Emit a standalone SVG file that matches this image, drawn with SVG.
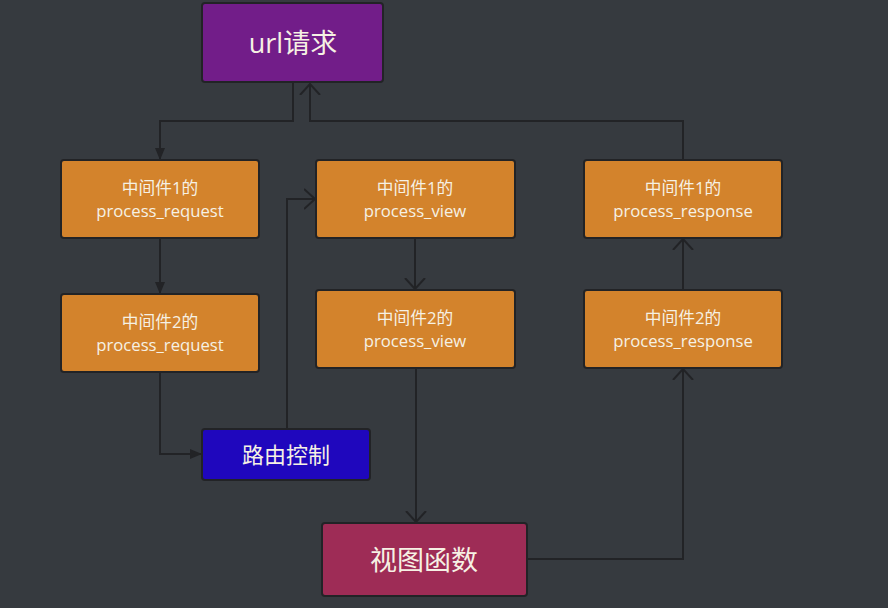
<svg xmlns="http://www.w3.org/2000/svg" width="888" height="608" viewBox="0 0 888 608">
<defs>
<style>
.bg{fill:#363a3f}
.box{stroke:#222326;stroke-width:2}
.mw{fill:#d3832c}
.t{fill:#f6f1e4;font-family:"Open Sans","Noto Sans CJK SC",sans-serif;text-anchor:middle}
.s{font-size:16.7px}
.c{fill:none;stroke:#222326;stroke-width:2}
</style>
<marker id="fa" viewBox="0 0 12 12" refX="11" refY="6" markerWidth="12" markerHeight="12" markerUnits="userSpaceOnUse" orient="auto">
<path d="M0,1 L12,6 L0,11 Z" fill="#222326"/>
</marker>
<marker id="oa" viewBox="0 0 12 22" refX="11" refY="11" markerWidth="12" markerHeight="22" markerUnits="userSpaceOnUse" orient="auto">
<path d="M0,1 L11,11 L0,21" fill="none" stroke="#222326" stroke-width="2"/>
</marker>
</defs>
<rect class="bg" x="0" y="0" width="888" height="608"/>
<g id="connectors">
<path class="c" d="M293,83 V121 H160 V159" marker-end="url(#fa)"/>
<path class="c" d="M683,159 V121 H310 V84" marker-end="url(#oa)"/>
<path class="c" d="M160,239 V293" marker-end="url(#fa)"/>
<path class="c" d="M160,373 V454 H201" marker-end="url(#fa)"/>
<path class="c" d="M287,428 V199 H315" marker-end="url(#oa)"/>
<path class="c" d="M415,239 V289" marker-end="url(#oa)"/>
<path class="c" d="M416,369 V522" marker-end="url(#oa)"/>
<path class="c" d="M528,559 H683 V369" marker-end="url(#oa)"/>
<path class="c" d="M683,289 V239" marker-end="url(#oa)"/>
</g>
<g id="url">
<rect class="box" x="202" y="3" width="181" height="79" rx="3" fill="#721d89"/>
<text class="t" x="293" y="53" font-size="27">url请求</text>
</g>
<g id="mw1req">
<rect class="box mw" x="61" y="160" width="198" height="78" rx="3"/>
<text class="t s" x="160" y="194">中间件1的</text>
<text class="t s" x="160" y="217">process_request</text>
</g>
<g id="mw2req">
<rect class="box mw" x="61" y="294" width="198" height="78" rx="3"/>
<text class="t s" x="160" y="328">中间件2的</text>
<text class="t s" x="160" y="351">process_request</text>
</g>
<g id="mw1view">
<rect class="box mw" x="316" y="160" width="199" height="78" rx="3"/>
<text class="t s" x="415" y="194">中间件1的</text>
<text class="t s" x="415" y="217">process_view</text>
</g>
<g id="mw2view">
<rect class="box mw" x="316" y="290" width="199" height="78" rx="3"/>
<text class="t s" x="415" y="324">中间件2的</text>
<text class="t s" x="415" y="347">process_view</text>
</g>
<g id="mw1resp">
<rect class="box mw" x="584" y="160" width="198" height="78" rx="3"/>
<text class="t s" x="683" y="194">中间件1的</text>
<text class="t s" x="683" y="217">process_response</text>
</g>
<g id="mw2resp">
<rect class="box mw" x="584" y="290" width="198" height="78" rx="3"/>
<text class="t s" x="683" y="324">中间件2的</text>
<text class="t s" x="683" y="347">process_response</text>
</g>
<g id="route">
<rect class="box" x="202" y="429" width="168" height="51" rx="3" fill="#1f07bd"/>
<text class="t" x="286" y="463" font-size="22">路由控制</text>
</g>
<g id="view">
<rect class="box" x="322" y="523" width="205" height="73" rx="3" fill="#9e2c56"/>
<text class="t" x="424" y="570" font-size="27">视图函数</text>
</g>
</svg>
